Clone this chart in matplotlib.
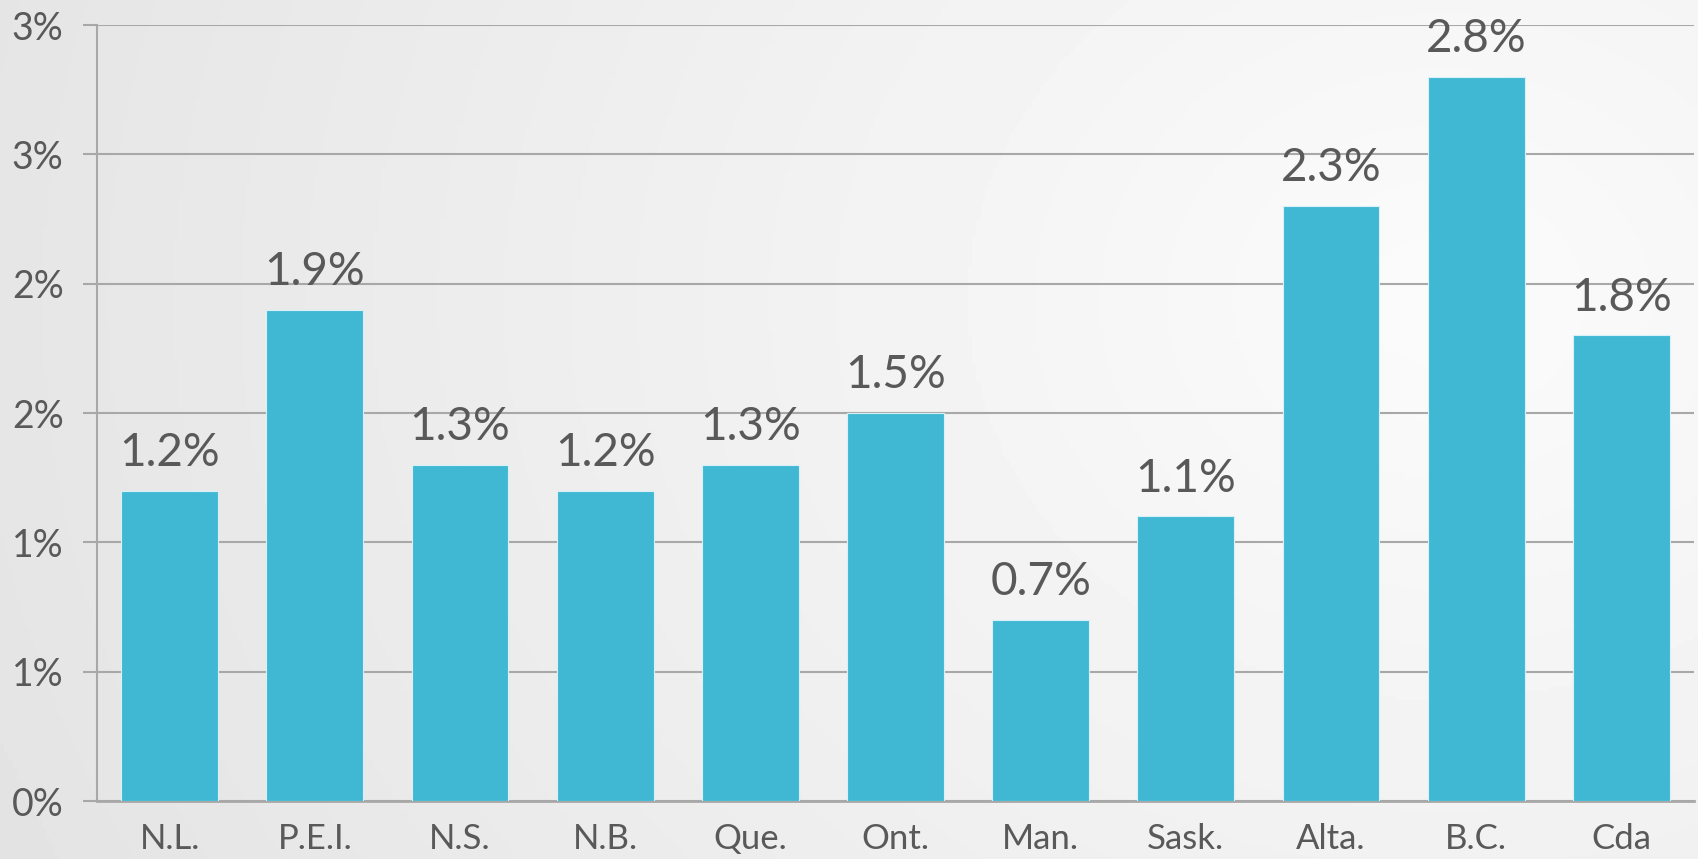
#!/usr/bin/env python3
import matplotlib
matplotlib.use('Agg')
import matplotlib.pyplot as plt
import numpy as np
from matplotlib.ticker import FuncFormatter

# Data
provinces = ['N.L.', 'P.E.I.', 'N.S.', 'N.B.', 'Que.', 'Ont.', 'Man.', 'Sask.', 'Alta.', 'B.C.', 'Cda']
growth = [1.2, 1.9, 1.3, 1.2, 1.3, 1.5, 0.7, 1.1, 2.3, 2.8, 1.8]
y_ticks = [0, 0.5, 1.0, 1.5, 2.0, 2.5, 3.0]

BAR_COLOR = '#41b8d3'
TEXT_COLOR = '#595959'
GRID_COLOR = '#a8a8a8'

plt.rcParams['font.family'] = ['Lato', 'DejaVu Sans']


def pct_label(v, pos):
    # the source rounds half-up to whole percents
    return f'{int(np.floor(v + 0.5))}%'


fig = plt.figure(figsize=(16.98, 8.59), dpi=100)

# Background: soft grey gradient, lighter towards the right
bg = fig.add_axes([0, 0, 1, 1], zorder=-10)
xx, yy = np.meshgrid(np.linspace(0, 1, 400), np.linspace(0, 1, 200))
dist = np.sqrt(((xx - 0.85) * 1.0) ** 2 + ((yy - 0.35) * 0.6) ** 2)
shade = 0.985 - 0.10 * np.clip(dist, 0, 1)
bg.imshow(shade, cmap='gray', vmin=0, vmax=1, aspect='auto', extent=[0, 1, 0, 1])
bg.axis('off')

ax = fig.add_axes([97 / 1698, 58 / 859, (1694 - 97) / 1698, (801 - 25) / 859])
ax.patch.set_alpha(0)

x = np.arange(len(provinces))
ax.bar(x, growth, width=0.667, color=BAR_COLOR, edgecolor='#d8f0f6', linewidth=0.8, zorder=3)

for xi, v in zip(x, growth):
    ax.annotate(f'{v:.1f}%', (xi, v), xytext=(0, 12), textcoords='offset points',
                ha='center', va='bottom', fontsize=33, color=TEXT_COLOR)

ax.set_xlim(-0.5, len(provinces) - 0.5)
ax.set_ylim(0, 3.0)
ax.set_yticks(y_ticks)
ax.yaxis.set_major_formatter(FuncFormatter(pct_label))
ax.set_xticks(x)
ax.set_xticklabels(provinces)

ax.grid(True, axis='y', color=GRID_COLOR, linewidth=1.5, zorder=0)
ax.tick_params(axis='y', length=10, width=1.5, color=GRID_COLOR, pad=14, labelsize=27, labelcolor=TEXT_COLOR)
ax.tick_params(axis='x', length=0, pad=16, labelsize=25, labelcolor=TEXT_COLOR)

for side in ['top', 'right']:
    ax.spines[side].set_visible(False)
ax.spines['left'].set_color(GRID_COLOR)
ax.spines['left'].set_linewidth(1.5)
ax.spines['bottom'].set_color(GRID_COLOR)
ax.spines['bottom'].set_linewidth(2)

fig.savefig('out.png', dpi=100)
